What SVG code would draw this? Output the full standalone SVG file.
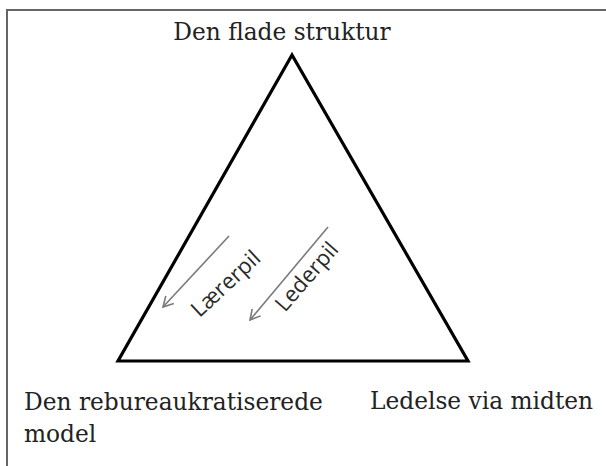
<svg xmlns="http://www.w3.org/2000/svg" width="606" height="466" viewBox="0 0 606 466">
<defs>
<style>
.lbl{font-family:"DejaVu Serif","Liberation Serif",serif;font-size:23.3px;fill:#222}
.arr{font-family:"Open Sans","Liberation Sans",sans-serif;font-size:22px;fill:#2a2a2a}
.ar{stroke:#7a7a7a;stroke-width:1.6;fill:none}
</style>
<marker id="ah" viewBox="-12 -7 14 14" refX="0" refY="0" markerWidth="14" markerHeight="14" markerUnits="userSpaceOnUse" orient="auto">
<path d="M-10,-5.5 L0,0 L-10,5.5" fill="none" stroke="#7a7a7a" stroke-width="1.6"/>
</marker>
</defs>
<rect x="0" y="0" width="606" height="466" fill="#fff"/>
<rect x="7" y="10" width="610" height="470" fill="none" stroke="#666" stroke-width="2"/>
<g id="triangle">
<polygon points="292,55 118,361 468,361" fill="none" stroke="#000" stroke-width="3.2"/>
</g>
<g id="top"><text class="lbl" x="282" y="40" text-anchor="middle">Den flade struktur</text></g>
<g id="bottom-left"><text class="lbl" x="24" y="410">Den rebureaukratiserede</text><text class="lbl" x="24" y="442">model</text></g>
<g id="bottom-right"><text class="lbl" x="370" y="409">Ledelse via midten</text></g>
<g id="connectors">
<path class="ar" d="M229,236 L163,307" marker-end="url(#ah)"/>
<path class="ar" d="M328,227 L250,320" marker-end="url(#ah)"/>
</g>
<g id="labels">
<text class="arr" transform="translate(226,284) rotate(-43)" text-anchor="middle" dy="7">Lærerpil</text>
<text class="arr" transform="translate(307,277) rotate(-49)" text-anchor="middle" dy="7">Lederpil</text>
</g>
</svg>
